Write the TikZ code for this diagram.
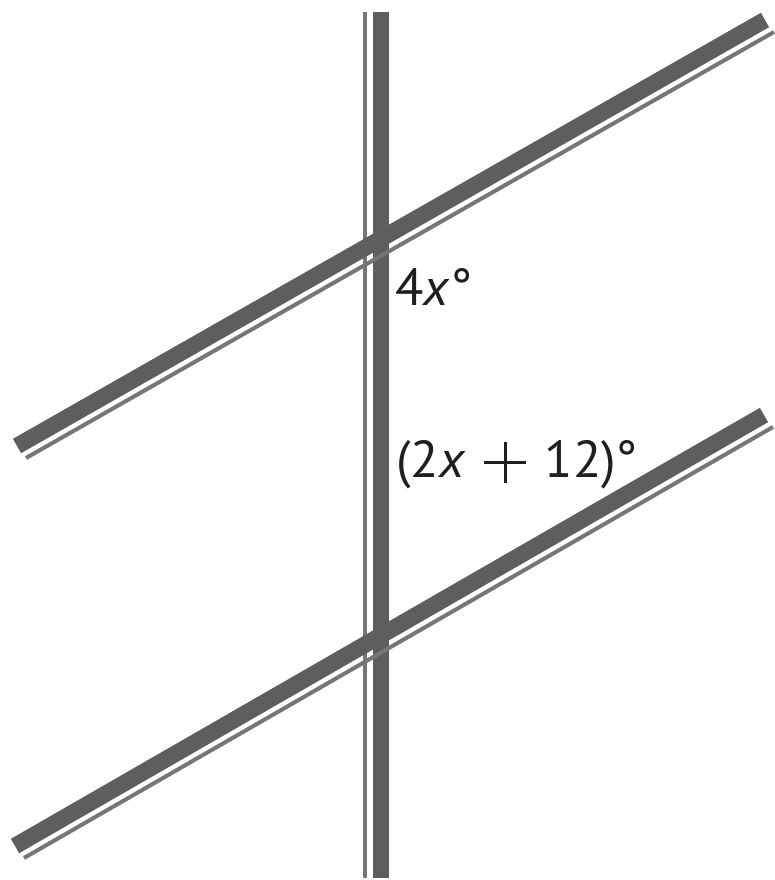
\documentclass[tikz,border=0pt]{standalone}
\usepackage{fontspec}
\setmainfont{PT Sans}
\definecolor{thickgray}{HTML}{5E5E5E}
\definecolor{thingray}{HTML}{767676}
\newcommand{\bigplusmark}{\rlap{\rule[0.245em]{0.8em}{0.065em}}\hspace{0.3675em}\rule[-0.12em]{0.065em}{0.8em}\hspace{0.3675em}}
\begin{document}
\begin{tikzpicture}[x=1pt,y=-1pt,
  thickline/.style={draw=thickgray,line width=16.5pt},
  thinline/.style={draw=thingray,line width=4pt},
  lbl/.style={font=\fontsize{52}{56}\selectfont,anchor=base west,inner sep=0pt,text=black!88}]
\useasboundingbox (0,0) rectangle (775,880);
% vertical transversal
\coordinate (vt) at (381,12);
\coordinate (vb) at (381,878);
\coordinate (wt) at (364.5,12);
\coordinate (wb) at (364.5,878);
\draw[thinline] (wt) -- (wb);
\draw[thickline] (vt) -- (vb);
% upper parallel line
\coordinate (ua) at (17,446);
\coordinate (ub) at (765,20);
\coordinate (uc) at (26,458);
\coordinate (ud) at (774,32);
\draw[thickline] (ua) -- (ub);
\draw[thinline] (uc) -- (ud);
% lower parallel line
\coordinate (la) at (15,846);
\coordinate (lb) at (764,415);
\coordinate (lc) at (24,858);
\coordinate (ld) at (773,427);
\draw[thickline] (la) -- (lb);
\draw[thinline] (lc) -- (ld);
% labels
\node[lbl] (a1) at (395,305) {4\textit{x}°};
\node[lbl] (a2) at (396,477) {(2\textit{x}\hspace{0.36em}\bigplusmark\hspace{0.36em}12)°};
\end{tikzpicture}
\end{document}
